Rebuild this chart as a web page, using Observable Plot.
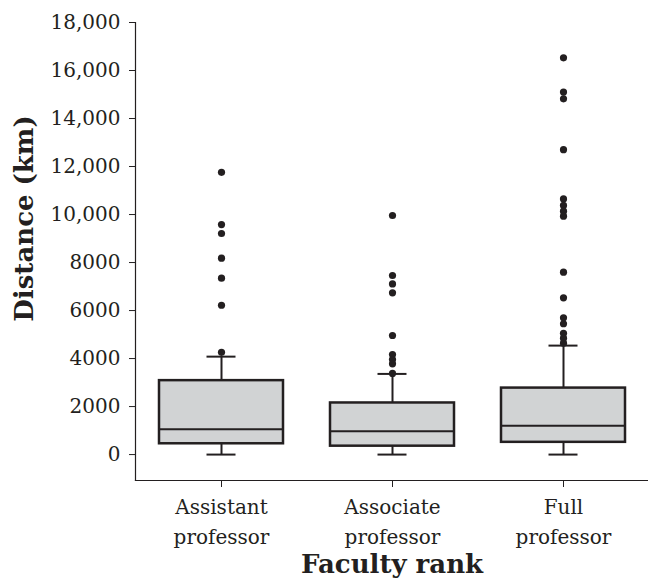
<!DOCTYPE html>
<html>
<head>
<meta charset="utf-8">
<script src="https://cdn.jsdelivr.net/npm/d3@7"></script>
<script src="https://cdn.jsdelivr.net/npm/@observablehq/plot@0.6"></script>
<style>
  html, body { margin: 0; padding: 0; background: #fff; }
</style>
</head>
<body>
<div id="chart"></div>
<script>
const categories = ["Assistant\nprofessor", "Associate\nprofessor", "Full\nprofessor"];
const q1 = [450, 350, 510];
const median = [1060, 970, 1200];
const q3 = [3080, 2150, 2770];
const whiskerLow = [0, 0, 0];
const whiskerHigh = [4080, 3360, 4540];
const outliersAssistant = [11760, 9580, 9210, 8180, 7350, 6220, 4260];
const outliersAssociate = [9960, 7460, 7110, 6740, 4960, 4170, 3960, 3780, 3380];
const outliersFull = [16530, 15100, 14820, 12700, 10650, 10380, 10140, 9930, 7600, 6530, 5700, 5450, 5050, 4850, 4640];
const yTicks = [0, 2000, 4000, 6000, 8000, 10000, 12000, 14000, 16000, 18000];

const boxes = categories.map((c, i) => ({
  cat: c, q1: q1[i], median: median[i], q3: q3[i], lo: whiskerLow[i], hi: whiskerHigh[i]
}));
const outliers = [
  ...outliersAssistant.map(v => ({cat: categories[0], v})),
  ...outliersAssociate.map(v => ({cat: categories[1], v})),
  ...outliersFull.map(v => ({cat: categories[2], v}))
];

const ink = "#231f20";
const chart = Plot.plot({
  width: 648,
  height: 580,
  marginLeft: 135,
  marginRight: 0,
  marginTop: 22,
  marginBottom: 100,
  style: {fontFamily: "DejaVu Serif", color: ink, background: "#fff"},
  x: {domain: categories, paddingInner: 0.275, paddingOuter: 0.1375, label: null},
  y: {domain: [-1080, 18000], label: null},
  marks: [
    Plot.frame({anchor: "left", stroke: ink, strokeWidth: 1.2}),
    Plot.frame({anchor: "bottom", stroke: ink, strokeWidth: 1.2}),
    Plot.axisY({
      ticks: yTicks, tickSize: 6, tickPadding: 9, fontSize: 20,
      tickFormat: d => d >= 10000 ? d3.format(",")(d) : String(d),
      label: "Distance (km)", labelArrow: "none", labelAnchor: "center", labelOffset: 121
    }),
    Plot.axisX({
      tickSize: 7, tickPadding: 5, fontSize: 20, lineHeight: 1.5,
      label: "Faculty rank", labelAnchor: "center", labelOffset: 92
    }),
    Plot.ruleX(boxes, {x: "cat", y1: "lo", y2: "q1", stroke: ink, strokeWidth: 2}),
    Plot.ruleX(boxes, {x: "cat", y1: "q3", y2: "hi", stroke: ink, strokeWidth: 2}),
    Plot.tickY(boxes, {x: "cat", y: "lo", stroke: ink, strokeWidth: 2, inset: 47.5}),
    Plot.tickY(boxes, {x: "cat", y: "hi", stroke: ink, strokeWidth: 2, inset: 47.5}),
    Plot.barY(boxes, {x: "cat", y1: "q1", y2: "q3", fill: "#d1d3d4", stroke: ink, strokeWidth: 2.5}),
    Plot.tickY(boxes, {x: "cat", y: "median", stroke: ink, strokeWidth: 2}),
    Plot.dot(outliers, {x: "cat", y: "v", r: 3.6, fill: ink, stroke: "none"})
  ]
});
chart.querySelectorAll("g[aria-label='y-axis label'] text, g[aria-label='x-axis label'] text").forEach(t => {
  t.textContent = t.textContent.replace(/[↑→←↓]/g, "").trim();
  t.setAttribute("font-weight", "bold");
  t.setAttribute("font-size", "26");
});
// the reference's y label sits above the frame centre
chart.querySelectorAll("g[aria-label='y-axis label'] text").forEach(t => {
  const tr = t.getAttribute("transform") || "";
  const m = tr.match(/translate\(([-\d.]+),\s*([-\d.]+)\)/);
  if (m) t.setAttribute("transform", tr.replace(m[0], `translate(${m[1]},${(+m[2]) - 33})`));
});
document.getElementById("chart").appendChild(chart);
</script>
</body>
</html>
